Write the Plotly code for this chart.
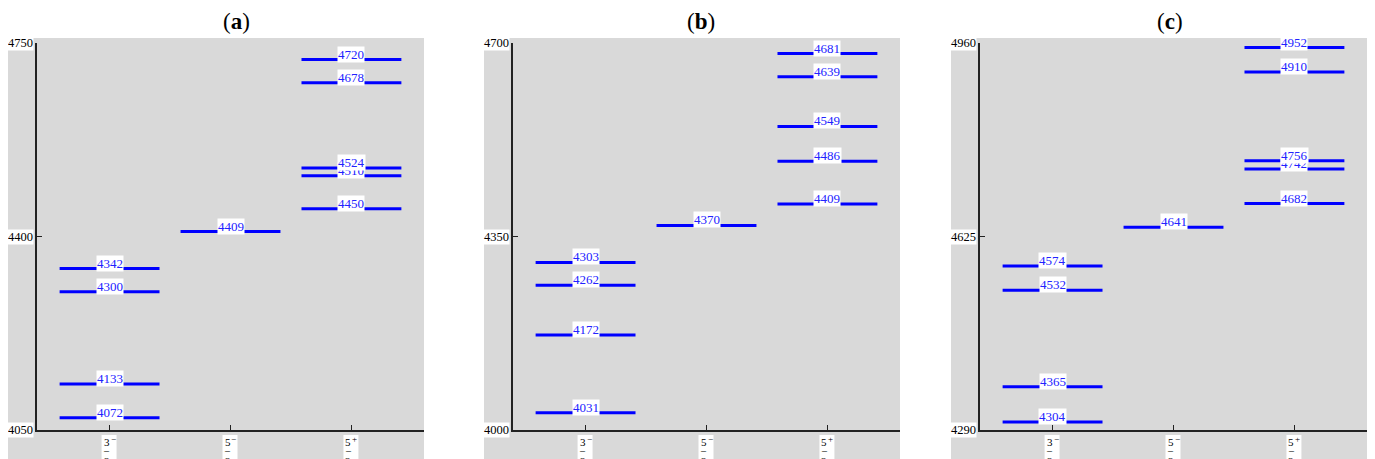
import plotly.graph_objects as go

W, H = 1375, 459
OFF = 8  # page body margin offset

# ---- data ----
categories = ["3/2-", "5/2-", "5/2+"]
tick_num = ["3", "5", "5"]
tick_sign = ["\u2212", "\u2212", "+"]
tick_den = ["2", "2", "2"]

panel_titles = ["a", "b", "c"]

a_3m = [4072, 4133, 4300, 4342]
a_5m = [4409]
a_5p = [4450, 4510, 4524, 4678, 4720]
a_ticks = [4050, 4400, 4750]

b_3m = [4031, 4172, 4262, 4303]
b_5m = [4370]
b_5p = [4409, 4486, 4549, 4639, 4681]
b_ticks = [4000, 4350, 4700]

c_3m = [4304, 4365, 4532, 4574]
c_5m = [4641]
c_5p = [4682, 4742, 4756, 4910, 4952]
c_ticks = [4290, 4625, 4960]

panels = [
    ([a_3m, a_5m, a_5p], a_ticks),
    ([b_3m, b_5m, b_5p], b_ticks),
    ([c_3m, c_5m, c_5p], c_ticks),
]

# ---- layout geometry (page pixels) ----
axis_left_px = [37, 513, 980]
plot_w_px = 387
plot_top_px, plot_bot_px = 43, 430
gray_pad_left = 29
gray_top_px = 38
title_x_px = [236, 701, 1170]
half_w = 0.413
serif = "Liberation Serif, Times New Roman, serif"


def px_x(p):
    return (p - OFF) / W


def px_y(p):
    return (H - (p - OFF)) / H


fig = go.Figure()
shapes = []
annotations = []

for i, (series, ticks) in enumerate(panels):
    xa = "x" if i == 0 else f"x{i+1}"
    ya = "y" if i == 0 else f"y{i+1}"
    xkey = "xaxis" if i == 0 else f"xaxis{i+1}"
    ykey = "yaxis" if i == 0 else f"yaxis{i+1}"
    x0p = px_x(axis_left_px[i])
    x1p = px_x(axis_left_px[i] + plot_w_px)
    y0p = px_y(plot_bot_px)
    y1p = px_y(plot_top_px)

    fig.update_layout(**{
        xkey: dict(domain=[x0p, x1p], range=[-0.6, 2.6], anchor=ya,
                   showline=True, linecolor="#222", linewidth=1.5,
                   ticks="inside", ticklen=5, tickcolor="#222", tickwidth=1.2,
                   tickvals=[0, 1, 2], showticklabels=False, showgrid=False,
                   zeroline=False, fixedrange=True),
        ykey: dict(domain=[y0p, y1p], range=[ticks[0], ticks[-1]], anchor=xa,
                   showline=True, linecolor="#222", linewidth=1.5,
                   ticks="inside", ticklen=5, tickcolor="#222", tickwidth=1.2,
                   tickvals=ticks, showticklabels=False, showgrid=False,
                   zeroline=False, fixedrange=True),
    })

    # gray background
    shapes.append(dict(type="rect", xref="paper", yref="paper", layer="below",
                       x0=px_x(axis_left_px[i] - gray_pad_left), x1=x1p,
                       y0=-0.05, y1=px_y(gray_top_px),
                       fillcolor="#d9d9d9", line=dict(width=0)))

    # level lines
    for ci, vals in enumerate(series):
        xs, ys = [], []
        for v in vals:
            xs += [ci - half_w, ci + half_w, None]
            ys += [v, v, None]
        fig.add_trace(go.Scatter(x=xs, y=ys, mode="lines", xaxis=xa, yaxis=ya,
                                 line=dict(color="#0000ff", width=3),
                                 hoverinfo="skip", showlegend=False))
        for v in vals:
            annotations.append(dict(x=ci, y=v, xref=xa, yref=ya, text=str(v),
                                    showarrow=False, yanchor="bottom", yshift=-3,
                                    font=dict(family=serif, size=13, color="#2222ff"),
                                    bgcolor="white", borderpad=0))

    # y tick labels
    for t in ticks:
        annotations.append(dict(x=px_x(axis_left_px[i] - 3), y=t, xref="paper", yref=ya,
                                text=str(t), showarrow=False, xanchor="right",
                                yanchor="middle",
                                font=dict(family=serif, size=12.5, color="black"),
                                bgcolor="white", borderpad=0))

    # x tick labels (stacked fractions, cut at bottom)
    for ci in range(3):
        tick_px = axis_left_px[i] + (ci + 0.6) * plot_w_px / 3.2
        shapes.append(dict(type="rect", xref="paper", yref="paper", layer="above",
                           x0=px_x(tick_px - 8), x1=px_x(tick_px + 7),
                           y0=-0.05, y1=px_y(435),
                           fillcolor="white", line=dict(width=0)))
        annotations.append(dict(x=px_x(tick_px - 3), y=px_y(442), xref="paper", yref="paper",
                                text=tick_num[ci], showarrow=False,
                                xanchor="center", yanchor="middle",
                                font=dict(family=serif, size=11, color="black")))
        annotations.append(dict(x=px_x(tick_px + 3.5), y=px_y(439), xref="paper", yref="paper",
                                text=tick_sign[ci], showarrow=False,
                                xanchor="center", yanchor="middle",
                                font=dict(family=serif, size=9, color="black")))
        annotations.append(dict(x=px_x(tick_px - 3), y=px_y(450), xref="paper", yref="paper",
                                text="\u2013", showarrow=False,
                                xanchor="center", yanchor="middle",
                                font=dict(family=serif, size=10, color="black")))
        annotations.append(dict(x=px_x(tick_px - 3), y=px_y(453), xref="paper", yref="paper",
                                text=tick_den[ci], showarrow=False,
                                xanchor="center", yanchor="top",
                                font=dict(family=serif, size=11, color="black")))

    # panel title
    annotations.append(dict(x=px_x(title_x_px[i]), y=px_y(21), xref="paper", yref="paper",
                            text=f"(<b>{panel_titles[i]}</b>)", showarrow=False,
                            xanchor="center", yanchor="middle",
                            font=dict(family=serif, size=23, color="black")))

fig.update_layout(width=W, height=H, margin=dict(l=0, r=0, t=0, b=0),
                  paper_bgcolor="white", plot_bgcolor="rgba(0,0,0,0)",
                  shapes=shapes, annotations=annotations, showlegend=False)

fig.write_html("out.html")
